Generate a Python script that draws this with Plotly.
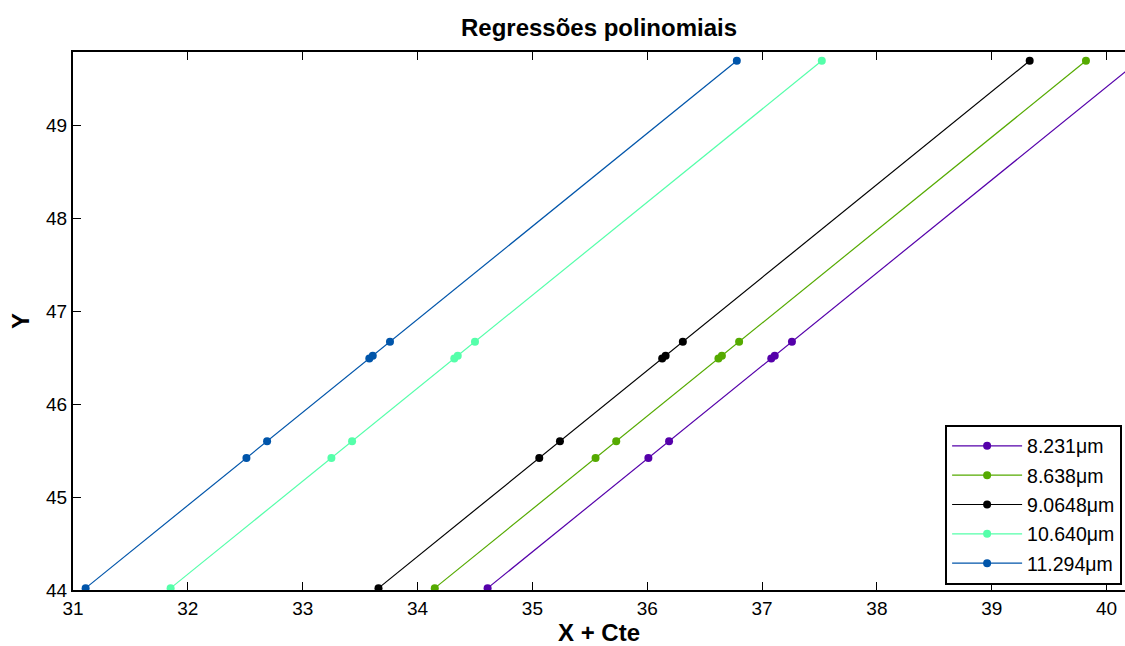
import plotly.graph_objects as go

# Shared Y values of the points (same for every series)
y_vals = [44.02, 45.42, 45.60, 46.49, 46.52, 46.67, 49.69]

series_names = ["8.231μm", "8.638μm", "9.0648μm", "10.640μm", "11.294μm"]
x_8231 = [34.61, 36.01, 36.19, 37.08, 37.11, 37.26, 40.28]
x_8638 = [34.15, 35.55, 35.73, 36.62, 36.65, 36.80, 39.82]
x_90648 = [33.66, 35.06, 35.24, 36.13, 36.16, 36.31, 39.33]
x_10640 = [31.85, 33.25, 33.43, 34.32, 34.35, 34.50, 37.52]
x_11294 = [31.11, 32.51, 32.69, 33.58, 33.61, 33.76, 36.78]
series_x = [x_8231, x_8638, x_90648, x_10640, x_11294]
colors = ["#5500AA", "#55AA00", "#000000", "#55FFAA", "#0055AA"]

x_ticks = [31, 32, 33, 34, 35, 36, 37, 38, 39, 40]
y_ticks = [44, 45, 46, 47, 48, 49]

FONT = "Liberation Sans, Arial, sans-serif"

fig = go.Figure()
for i, (name, xs, c) in enumerate(zip(series_names, series_x, colors)):
    fig.add_trace(go.Scatter(
        x=xs, y=y_vals, name=name, mode="lines+markers",
        legendgroup=f"g{i}",
        line=dict(color=c, width=1.2),
        marker=dict(color=c, size=8, symbol="circle"),
        cliponaxis=True,
    ))

fig.update_layout(
    width=1125, height=646,
    paper_bgcolor="white", plot_bgcolor="white",
    margin=dict(l=73, r=0, t=52, b=56),
    font=dict(family=FONT, size=19, color="black"),
    title=dict(text="<b>Regressões polinomiais</b>", xref="paper", x=0.5, xanchor="center",
               y=1 - 28 / 646, yanchor="middle",
               font=dict(family=FONT, size=24, color="black")),
    showlegend=True,
    legend=dict(x=0.829, y=0.01, xanchor="left", yanchor="bottom",
                bgcolor="white", bordercolor="black", borderwidth=2,
                font=dict(family=FONT, size=19.5, color="black"),
                traceorder="grouped", tracegroupgap=1, itemwidth=70),
)
fig.update_xaxes(
    range=[31, 40.16], tickvals=x_ticks, ticktext=[str(t) for t in x_ticks],
    showgrid=False, zeroline=False, showline=True, linecolor="black", linewidth=2,
    mirror="ticks", ticks="inside", ticklen=8, tickcolor="black", tickwidth=1,
    tickfont=dict(size=19), automargin=False,
    title=dict(text="<b>X + Cte</b>", font=dict(family=FONT, size=24), standoff=10),
)
fig.update_yaxes(
    range=[44, 49.785], tickvals=y_ticks, ticktext=[str(t) for t in y_ticks],
    showgrid=False, zeroline=False, showline=True, linecolor="black", linewidth=2,
    mirror=False, ticks="inside", ticklen=8, tickcolor="black", tickwidth=1,
    tickfont=dict(size=19), automargin=False,
    title=dict(text="<b>Y</b>", font=dict(family=FONT, size=24), standoff=10),
)

fig.write_html("out.html", config={"displayModeBar": False},
               post_script="document.body.style.margin='0';")
